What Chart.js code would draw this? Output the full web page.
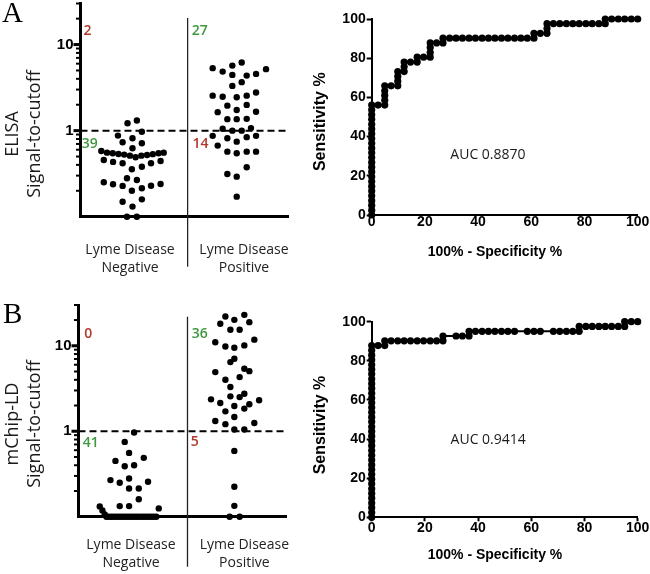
<!DOCTYPE html>
<html>
<head>
<meta charset="utf-8">
<script src="https://cdn.jsdelivr.net/npm/chart.js@4.4.1/dist/chart.umd.min.js"></script>
<style>
  html, body { margin: 0; padding: 0; background: #fff; }
  #wrap { position: relative; width: 650px; height: 574px; overflow: hidden; }
  #wrap canvas { position: absolute; left: 0; top: 0; }
</style>
</head>
<body>
<div id="wrap">
  <canvas id="elisaDot" width="650" height="574"></canvas>
  <canvas id="elisaRoc" width="650" height="574"></canvas>
  <canvas id="mchipDot" width="650" height="574"></canvas>
  <canvas id="mchipRoc" width="650" height="574"></canvas>
</div>
<script>
// ---------- data ----------
const catLabels = [['Lyme Disease', 'Negative'], ['Lyme Disease', 'Positive']];
const logTicks = [0.1, 0.2, 0.3, 0.4, 0.5, 0.6, 0.7, 0.8, 0.9, 1, 2, 3, 4, 5, 6, 7, 8, 9, 10, 20, 30];

// dot plots: [offset from the column centre, signal-to-cutoff]
const elisaNeg = [
  [0.042, 1.31], [-0.048, 1.22], [0.09, 0.97], [-0.14, 0.875], [0, 0.816], [-0.095, 0.733], [0.09, 0.714], [0, 0.624],
  [-0.30, 0.58], [-0.245, 0.555], [-0.19, 0.545], [-0.135, 0.535], [-0.08, 0.527], [-0.025, 0.512],
  [0.03, 0.49], [0.085, 0.512], [0.14, 0.522], [0.195, 0.533], [0.25, 0.545], [0.30, 0.555],
  [-0.276, 0.456], [-0.187, 0.433], [-0.095, 0.418], [-0.006, 0.356], [0.09, 0.381], [0.178, 0.418], [0.27, 0.444],
  [-0.053, 0.28], [0.042, 0.267],
  [-0.276, 0.251], [-0.187, 0.238], [-0.095, 0.228], [-0.006, 0.2], [0.09, 0.214], [0.178, 0.229], [0.27, 0.24],
  [-0.095, 0.149], [0.09, 0.159], [0, 0.131], [-0.053, 0.1], [0.042, 0.1]
];
const elisaPos = [
  [-0.229, 5.32], [-0.133, 4.85], [-0.04, 5.70], [0.05, 6.18], [-0.04, 4.44], [0.098, 4.36], [0.188, 4.56], [0.284, 5.18],
  [0.05, 3.66], [-0.04, 3.31],
  [-0.229, 2.55], [-0.133, 2.48], [0.002, 2.44], [0.098, 2.55], [0.188, 2.77],
  [-0.088, 1.95], [0.098, 1.99], [0.002, 1.74], [-0.181, 1.64], [0.188, 1.66],
  [-0.088, 1.36], [0.002, 1.36], [0.098, 1.37],
  [-0.133, 1.05], [-0.04, 1.0], [0.05, 1.0], [0.139, 1.07],
  [-0.229, 0.87], [-0.088, 0.816], [0.098, 0.84], [0.188, 0.87], [-0.181, 0.67], [0.002, 0.745],
  [-0.088, 0.57], [0.002, 0.546], [0.098, 0.57], [0.188, 0.57],
  [0.098, 0.375], [-0.088, 0.314], [0.002, 0.292], [0.002, 0.171]
];
const mchipNeg = [
  [0.034, 0.965], [-0.056, 0.75], [-0.014, 0.558], [-0.145, 0.45], [0.127, 0.488], [-0.056, 0.39], [0.034, 0.40],
  [-0.193, 0.268], [-0.104, 0.25], [-0.014, 0.28], [0.168, 0.256], [-0.014, 0.214], [0.079, 0.214],
  [0.079, 0.16], [-0.104, 0.133], [-0.014, 0.133], [0.271, 0.125],
  [-0.296, 0.132], [-0.27, 0.118], [-0.248, 0.106],
  [-0.232, 0.1], [-0.208, 0.1], [-0.184, 0.1], [-0.16, 0.1], [-0.136, 0.1], [-0.112, 0.1], [-0.088, 0.1],
  [-0.064, 0.1], [-0.04, 0.1], [-0.016, 0.1], [0.008, 0.1], [0.032, 0.1], [0.056, 0.1], [0.08, 0.1],
  [0.104, 0.1], [0.128, 0.1], [0.152, 0.1], [0.176, 0.1], [0.20, 0.1], [0.224, 0.1], [0.248, 0.1]
];
const mchipPos = [
  [-0.089, 22.0], [0.093, 23.0], [-0.003, 20.1], [-0.138, 18.1], [0.141, 18.9], [-0.041, 15.4], [0.048, 15.4],
  [-0.186, 11.0], [-0.089, 9.8], [-0.003, 9.5], [0.093, 10.1], [0.189, 11.8],
  [-0.003, 7.05], [-0.041, 6.44], [-0.186, 4.92], [0.093, 5.39], [0.141, 5.05], [-0.089, 4.01], [0.048, 4.3], [-0.041, 3.29],
  [-0.227, 2.36], [-0.138, 2.14], [-0.041, 2.56], [0.048, 2.51], [0.093, 2.75], [0.235, 2.30],
  [-0.089, 1.71], [-0.003, 1.97], [0.093, 1.84], [0.141, 2.07],
  [-0.003, 1.47], [-0.186, 1.32], [-0.089, 1.21], [0.189, 1.25], [-0.003, 1.05], [0.093, 1.05],
  [-0.003, 0.589], [-0.003, 0.224], [-0.003, 0.134], [-0.048, 0.1], [0.048, 0.1]
];

// ROC curves: [100% - specificity, sensitivity]
const elisaRoc = [
  [0, 0], [0, 2.4], [0, 4.9], [0, 7.3], [0, 9.8], [0, 12.2], [0, 14.6], [0, 17.1], [0, 19.5], [0, 22.0], [0, 24.4], [0, 26.8],
  [0, 29.3], [0, 31.7], [0, 34.1], [0, 36.6], [0, 39.0], [0, 41.5], [0, 43.9], [0, 46.3], [0, 48.8], [0, 51.2], [0, 53.7], [0, 56.1],
  [2.4, 56.1], [4.9, 56.1], [4.9, 58.5], [4.9, 61.0], [4.9, 63.4], [4.9, 65.9], [7.3, 65.9],
  [9.8, 65.9], [9.8, 68.3], [9.8, 70.7], [9.8, 73.2], [12.2, 73.2], [12.2, 75.6], [12.2, 78.0], [14.6, 78.0],
  [17.1, 78.0], [17.1, 80.5], [19.5, 80.5], [22.0, 80.5], [22.0, 82.9], [22.0, 85.4], [22.0, 87.8], [24.4, 87.8],
  [26.8, 87.8], [26.8, 90.2], [29.3, 90.2], [31.7, 90.2], [34.1, 90.2], [36.6, 90.2], [39.0, 90.2], [41.5, 90.2],
  [43.9, 90.2], [46.3, 90.2], [48.8, 90.2], [51.2, 90.2], [53.7, 90.2], [56.1, 90.2], [58.5, 90.2], [61.0, 90.2],
  [61.0, 92.7], [63.4, 92.7], [65.9, 92.7], [65.9, 95.1], [65.9, 97.6], [68.3, 97.6], [70.7, 97.6], [73.2, 97.6],
  [75.6, 97.6], [78.0, 97.6], [80.5, 97.6], [82.9, 97.6], [85.4, 97.6], [87.8, 97.6], [87.8, 100], [90.2, 100],
  [92.7, 100], [95.1, 100], [97.6, 100], [100, 100]
];
const mchipRoc = [
  [0, 0], [0, 2.4], [0, 4.9], [0, 7.3], [0, 9.8], [0, 12.2], [0, 14.6], [0, 17.1], [0, 19.5], [0, 22.0], [0, 24.4], [0, 26.8],
  [0, 29.3], [0, 31.7], [0, 34.1], [0, 36.6], [0, 39.0], [0, 41.5], [0, 43.9], [0, 46.3], [0, 48.8], [0, 51.2], [0, 53.7],
  [0, 56.1], [0, 58.5], [0, 61.0], [0, 63.4], [0, 65.9], [0, 68.3], [0, 70.7], [0, 73.2], [0, 75.6], [0, 78.0], [0, 80.5],
  [0, 82.9], [0, 85.4], [0, 87.8],
  [2.4, 87.8], [4.9, 87.8], [4.9, 90.2], [7.3, 90.2], [9.8, 90.2], [12.2, 90.2], [14.6, 90.2], [17.1, 90.2], [19.5, 90.2],
  [22.0, 90.2], [24.4, 90.2], [26.8, 90.2], [26.8, 92.7], [31.7, 92.7], [34.1, 92.7], [36.6, 92.7], [36.6, 95.1],
  [39.0, 95.1], [41.5, 95.1], [43.9, 95.1], [46.3, 95.1], [48.8, 95.1], [51.2, 95.1], [53.7, 95.1], [58.5, 95.1],
  [61.0, 95.1], [63.4, 95.1], [68.3, 95.1], [70.7, 95.1], [73.2, 95.1], [75.6, 95.1], [78.0, 95.1], [78.0, 97.6],
  [80.5, 97.6], [82.9, 97.6], [85.4, 97.6], [87.8, 97.6], [90.2, 97.6], [92.7, 97.6], [95.1, 97.6], [95.1, 100],
  [97.6, 100], [100, 100]
];

const elisaCounts = ['2', '27', '39', '14'];
const mchipCounts = ['0', '36', '41', '5'];
const aucLabels = ['AUC 0.8870', 'AUC 0.9414'];

// ---------- drawing ----------
const W = 650, H = 574;
const RED = '#b0392b', GREEN = '#3f973f';
const SANS = '"Liberation Sans", Arial, sans-serif';
const HUMAN = '"Open Sans", "Noto Sans", sans-serif';

Chart.defaults.animation = false;
Chart.defaults.color = '#000';
Chart.defaults.font.family = SANS;

function zeroPad(sc) { sc.paddingLeft = sc.paddingRight = sc.paddingTop = sc.paddingBottom = 0; }

function rotText(ctx, text, x, y) {
  ctx.save();
  ctx.translate(x, y);
  ctx.rotate(-Math.PI / 2);
  ctx.fillText(text, 0, 0);
  ctx.restore();
}

function dotDecor(s) {
  return {
    id: 'dotDecor',
    beforeDatasetsDraw(chart) {
      const ctx = chart.ctx, a = chart.chartArea, xs = chart.scales.x, ys = chart.scales.y;
      ctx.save();
      ctx.strokeStyle = '#000';
      // log axis tick marks, long at the decades
      logTicks.forEach(v => {
        if (v === 0.1) return;
        const major = v === 1 || v === 10;
        const py = ys.getPixelForValue(v);
        ctx.lineWidth = major ? 3 : 2;
        ctx.beginPath();
        ctx.moveTo(a.left - (major ? 7 : 4.5), py);
        ctx.lineTo(a.left, py);
        ctx.stroke();
      });
      // cut-off
      const cy = ys.getPixelForValue(1);
      ctx.lineWidth = 2;
      ctx.setLineDash([7, 4]);
      ctx.beginPath(); ctx.moveTo(a.left, cy); ctx.lineTo(a.right, cy); ctx.stroke();
      ctx.setLineDash([]);
      // divider between groups
      const dx = xs.getPixelForValue(s.divider);
      ctx.lineWidth = 1.3;
      ctx.strokeStyle = '#222';
      ctx.beginPath(); ctx.moveTo(dx, a.top + s.divTop); ctx.lineTo(dx, a.bottom + 50); ctx.stroke();
      ctx.restore();
    },
    afterDraw(chart) {
      const ctx = chart.ctx, xs = chart.scales.x, ys = chart.scales.y;
      ctx.save();
      ctx.textAlign = 'center';
      ctx.textBaseline = 'middle';
      ctx.font = '600 14px ' + HUMAN;
      s.counts.forEach((c, i) => {
        ctx.fillStyle = c.color;
        ctx.fillText(s.countText[i], xs.getPixelForValue(c.x), ys.getPixelForValue(c.y));
      });
      ctx.fillStyle = '#1a1a1a';
      ctx.font = '18px ' + HUMAN;
      s.title.forEach((t, i) => rotText(ctx, t, s.titleX[i], s.titleY));
      ctx.fillStyle = '#000';
      ctx.textAlign = 'left';
      ctx.textBaseline = 'alphabetic';
      ctx.font = '29px "Liberation Serif", "Times New Roman", serif';
      ctx.fillText(s.letter, s.letterX, s.letterY);
      ctx.restore();
    }
  };
}

function dotPlot(id, neg, pos, s) {
  const pts = neg.map(p => ({ x: 1 + p[0], y: p[1] }))
    .concat(pos.map(p => ({ x: 2 + p[0], y: p[1] })));
  return new Chart(document.getElementById(id), {
    type: 'scatter',
    data: { datasets: [{ data: pts, pointRadius: 3.2, pointHoverRadius: 3.2, backgroundColor: '#000', borderWidth: 0, clip: false }] },
    options: {
      responsive: false, animation: false, devicePixelRatio: 1, events: [],
      layout: { autoPadding: false, padding: { left: 0, top: s.top, right: W - s.right, bottom: H - s.bottom - 70 } },
      plugins: { legend: { display: false }, tooltip: { enabled: false } },
      scales: {
        x: {
          type: 'linear', min: 0.5, max: 2.5,
          afterBuildTicks: sc => { sc.ticks = s.tickPos.map(v => ({ value: v })); },
          afterFit: sc => { sc.height = 70; zeroPad(sc); },
          grid: { display: false, drawTicks: false },
          border: { display: true, color: '#000', width: 3 },
          ticks: {
            autoSkip: false, maxRotation: 0, padding: s.labelPad, color: '#222',
            font: { family: HUMAN, size: 14, lineHeight: 1.3 },
            callback: (v, i) => catLabels[i]
          }
        },
        y: {
          type: 'logarithmic', min: 0.1, max: 30,
          afterBuildTicks: sc => { sc.ticks = logTicks.map(v => ({ value: v })); },
          afterFit: sc => { sc.width = s.left; zeroPad(sc); },
          grid: { display: false, drawTicks: false },
          border: { display: true, color: '#000', width: 3 },
          ticks: {
            autoSkip: false, padding: 7,
            font: { size: 15, weight: 'bold' },
            callback: v => (v === 1 || v === 10) ? String(v) : ''
          }
        }
      }
    },
    plugins: [dotDecor(s)]
  });
}

function rocDecor(s) {
  return {
    id: 'rocDecor',
    afterDraw(chart) {
      const ctx = chart.ctx, xs = chart.scales.x, ys = chart.scales.y;
      ctx.save();
      ctx.textAlign = 'center';
      ctx.textBaseline = 'middle';
      ctx.fillStyle = '#1a1a1a';
      ctx.font = '14px ' + HUMAN;
      ctx.fillText(s.auc, xs.getPixelForValue(s.aucAt[0]), ys.getPixelForValue(s.aucAt[1]));
      ctx.fillStyle = '#000';
      ctx.font = 'bold 14px ' + SANS;
      ctx.fillText('100% - Specificity %', s.xTitle[0], s.xTitle[1]);
      ctx.font = 'bold 16px ' + SANS;
      rotText(ctx, 'Sensitivity %', s.yTitle[0], s.yTitle[1]);
      ctx.restore();
    }
  };
}

function rocPlot(id, roc, s) {
  return new Chart(document.getElementById(id), {
    type: 'scatter',
    data: {
      datasets: [{
        data: roc.map(p => ({ x: p[0], y: p[1] })),
        showLine: true, borderColor: '#000', borderWidth: 2,
        pointRadius: 3.6, pointHoverRadius: 3.6, backgroundColor: '#000', pointBorderWidth: 0, clip: false
      }]
    },
    options: {
      responsive: false, animation: false, devicePixelRatio: 1, events: [],
      layout: { autoPadding: false, padding: { left: s.left - 50, top: s.top, right: W - s.right, bottom: H - s.bottom - 40 } },
      plugins: { legend: { display: false }, tooltip: { enabled: false } },
      scales: {
        x: {
          type: 'linear', min: 0, max: 100,
          afterFit: sc => { sc.height = 40; zeroPad(sc); },
          grid: { display: true, drawOnChartArea: false, drawTicks: s.xTick > 0, tickLength: s.xTick, tickColor: '#000', tickWidth: 2 },
          border: { display: true, color: '#000', width: 2 },
          ticks: { stepSize: 20, padding: 0, maxRotation: 0, font: { size: 14, weight: 'bold', lineHeight: 1 } }
        },
        y: {
          type: 'linear', min: 0, max: 100,
          afterFit: sc => { sc.width = 50; zeroPad(sc); },
          grid: { display: true, drawOnChartArea: false, drawTicks: true, tickLength: 5, tickColor: '#000', tickWidth: 2 },
          border: { display: true, color: '#000', width: 2 },
          ticks: { stepSize: 20, padding: 1, font: { size: 14, weight: 'bold', lineHeight: 1 } }
        }
      }
    },
    plugins: [rocDecor(s)]
  });
}

dotPlot('elisaDot', elisaNeg, elisaPos, {
  left: 80.5, right: 288.5, top: 3.5, bottom: 216.7,
  tickPos: [0.976, 2.072], labelPad: 24, divider: 1.53, divTop: 14.5,
  title: ['ELISA', 'Signal-to-cutoff'], titleX: [13, 35], titleY: 134,
  letter: 'A', letterX: 2, letterY: 22,
  countText: elisaCounts,
  counts: [{ x: 0.567, y: 14.2, color: RED }, { x: 1.646, y: 14.2, color: GREEN },
           { x: 0.588, y: 0.70, color: GREEN }, { x: 1.654, y: 0.70, color: RED }]
});

dotPlot('mchipDot', mchipNeg, mchipPos, {
  left: 78.5, right: 286.7, top: 305, bottom: 516.7,
  tickPos: [1.004, 2.093], labelPad: 19, divider: 1.547, divTop: 11.7,
  title: ['mChip-LD', 'Signal-to-cutoff'], titleX: [13.3, 35], titleY: 424,
  letter: 'B', letterX: 3, letterY: 323,
  countText: mchipCounts,
  counts: [{ x: 0.594, y: 13.7, color: RED }, { x: 1.665, y: 13.7, color: GREEN },
           { x: 0.617, y: 0.73, color: GREEN }, { x: 1.617, y: 0.74, color: RED }]
});

rocPlot('elisaRoc', elisaRoc, {
  left: 371.7, right: 637.7, top: 19, bottom: 215, xTick: 0,
  auc: aucLabels[0], aucAt: [43.7, 30.6], xTitle: [495, 251.7], yTitle: [320.7, 121.7]
});

rocPlot('mchipRoc', mchipRoc, {
  left: 371.7, right: 637.7, top: 321.7, bottom: 517.3, xTick: 4,
  auc: aucLabels[1], aucAt: [43.8, 39.5], xTitle: [495, 555], yTitle: [320.7, 425]
});
</script>
</body>
</html>
